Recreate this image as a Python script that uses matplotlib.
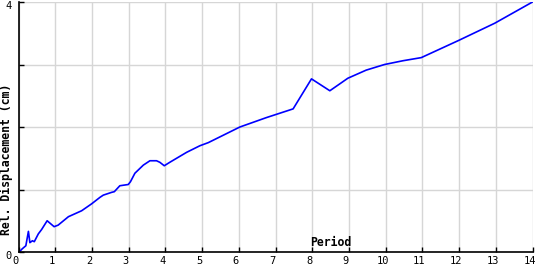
import matplotlib
matplotlib.use('Agg')
import matplotlib.pyplot as plt
import matplotlib.transforms as mtransforms

# Relative displacement spectrum
period = [0.02, 0.1, 0.2, 0.27, 0.31, 0.38, 0.43, 0.54, 0.63, 0.78, 0.97, 1.08,
          1.36, 1.72, 1.99, 2.22, 2.31, 2.54, 2.61, 2.76, 2.99, 3.05, 3.17, 3.4,
          3.58, 3.76, 3.85, 3.97, 4.12, 4.58, 4.94, 5.17, 6.03, 6.75, 7.48, 7.98,
          8.48, 8.75, 8.97, 9.47, 9.97, 10.47, 10.97, 11.97, 12.97, 14.0]
rel_disp = [0.0, 0.05, 0.1, 0.33, 0.15, 0.18, 0.165, 0.29, 0.36, 0.5, 0.405, 0.43,
            0.565, 0.66, 0.77, 0.875, 0.91, 0.955, 0.965, 1.06, 1.08, 1.125, 1.26, 1.39,
            1.46, 1.46, 1.435, 1.38, 1.435, 1.595, 1.70, 1.75, 2.0, 2.15, 2.29, 2.77,
            2.58, 2.69, 2.78, 2.91, 3.0, 3.06, 3.11, 3.38, 3.66, 4.0]

x_ticks = list(range(0, 15))
y_ticks = [0, 1, 2, 3, 4]
y_labels = ['0', '', '', '', '4']

mono = 'DejaVu Sans Mono'

fig = plt.figure(figsize=(5.4, 2.7), dpi=100)
ax = fig.add_axes([18.5 / 540, 1 - 252 / 270, 514 / 540, 250 / 270])

ax.plot(period, rel_disp, color='#0000ff', linewidth=1.2)

ax.set_xlim(0, 14)
ax.set_ylim(0, 4)
ax.set_xticks(x_ticks)
ax.set_yticks(y_ticks)
ax.set_yticklabels(y_labels)
ax.grid(True, color='#d6d6d6', linewidth=1)
ax.set_axisbelow(True)

for s in ['top', 'right']:
    ax.spines[s].set_visible(False)
for s in ['left', 'bottom']:
    ax.spines[s].set_linewidth(1.2)
    ax.spines[s].set_color('black')

ax.tick_params(axis='both', direction='in', length=3.5, width=1, labelsize=7.5)
ax.tick_params(axis='x', pad=3)
ax.tick_params(axis='y', pad=5)
for lab in ax.get_xticklabels() + ax.get_yticklabels():
    lab.set_family(mono)

# original labels sit a bit left of their ticks
shift = mtransforms.ScaledTranslation(-3 / 100, 0, fig.dpi_scale_trans)
for lab in ax.get_xticklabels():
    lab.set_transform(lab.get_transform() + shift)
shift_y = mtransforms.ScaledTranslation(0, -3 / 100, fig.dpi_scale_trans)
for lab in ax.get_yticklabels():
    lab.set_transform(lab.get_transform() + shift_y)

fig.text(6 / 540, 1 - 159 / 270, 'Rel. Displacement (cm)', rotation=90,
         ha='center', va='center', family=mono, fontweight='bold', fontsize=8.3)
fig.text(330.5 / 540, 1 - 246 / 270, 'Period', ha='center', va='baseline',
         family=mono, fontweight='bold', fontsize=8.3)

fig.savefig('out.png', dpi=100)
